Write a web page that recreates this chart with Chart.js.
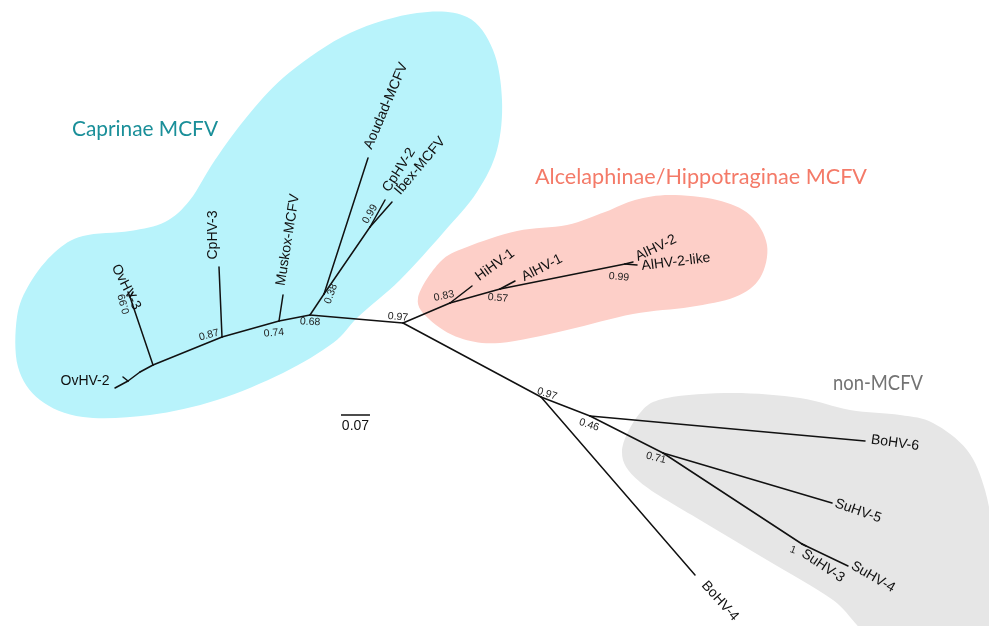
<!DOCTYPE html>
<html><head><meta charset="utf-8">
<script src="https://cdn.jsdelivr.net/npm/chart.js@4/dist/chart.umd.min.js"></script>
<style>html,body{margin:0;padding:0;background:#fff;overflow:hidden}canvas{display:block}</style>
</head><body>
<canvas id="c" width="989" height="626"></canvas>
<script>
// ---------- DATA ----------
// Tip (leaf) nodes: names, labels and tree-plot coordinates (unrooted layout units)
const tipNames  = ['OvHV-2','OvHV-2b','OvHV-3','OvHV-3b','CpHV-3','Muskox-MCFV','Aoudad-MCFV','CpHV-2','Ibex-MCFV','HiHV-1','AlHV-1','AlHV-2','AlHV-2-like','BoHV-4','BoHV-6','SuHV-5','SuHV-3','SuHV-4'];
const tipLabels = ['OvHV-2','','OvHV-3','','CpHV-3','Muskox-MCFV','Aoudad-MCFV','CpHV-2','Ibex-MCFV','HiHV-1','AlHV-1','AlHV-2','AlHV-2-like','BoHV-4','BoHV-6','SuHV-5','SuHV-3','SuHV-4'];
const tipX = [115,123,128,133,219,283,368,385,392,472,515,633,637,695,865,832,806,848];
const tipY = [388,377,292,292,267,295,158,200,202,286,281,262,265,575,441,503,546,566];

// Internal nodes: names, coordinates and posterior support values
const innerNames = ['c97','c68','c74','c87','cOv3','cOvA','cOv2','cOv3t','c38','c99c','c83','c57','c99a','c97b','c46','c71','c1'];
const innerX = [403,310,279,222,153,140,128,130,324,370,450,500,625,541,590,663,802];
const innerY = [323,315,321,337,365,372,381,297,294,227,303,289,264,397,416,453,544];
const support = ['0.97','0.68','0.74','0.87','','','','0.99','0.38','0.99','0.83','0.57','0.99','0.97','0.46','0.71','1'];

// Branches (parent -> child)
const edgeFrom = ['c97','c68','c74','c87','cOv3','cOvA','cOv2','cOv2','cOv3','cOv3t','cOv3t','c87','c74','c68','c38','c38','c99c','c99c','c97','c83','c83','c57','c57','c99a','c99a','c97','c97b','c97b','c46','c46','c71','c71','c1','c1'];
const edgeTo   = ['c68','c74','c87','cOv3','cOvA','cOv2','OvHV-2','OvHV-2b','cOv3t','OvHV-3','OvHV-3b','CpHV-3','Muskox-MCFV','c38','Aoudad-MCFV','c99c','CpHV-2','Ibex-MCFV','c83','HiHV-1','c57','AlHV-1','c99a','AlHV-2','AlHV-2-like','c97b','BoHV-4','c46','BoHV-6','c71','SuHV-5','c1','SuHV-3','SuHV-4'];

// Groups
const groupNames = ['Caprinae MCFV','Alcelaphinae/Hippotraginae MCFV','non-MCFV'];

// Scale bar (substitutions per site)
const scaleBarValue = 0.07;
const unitsPerSubstitution = 414;

// ---------- LAYOUT / STYLE ----------
const tipLabelLayout = { // dx, dy (px from tip to label centre), angle (deg)
  'OvHV-2':[-30,-7,0], 'OvHV-3':[-2,-5,63], 'CpHV-3':[-6,-32,-90], 'Muskox-MCFV':[5,-55,-81],
  'Aoudad-MCFV':[18,-52,-67], 'CpHV-2':[14,-30,-57], 'Ibex-MCFV':[28,-36,-50],
  'HiHV-1':[23,-21,-36], 'AlHV-1':[27,-13,-27], 'AlHV-2':[23,-14,-26], 'AlHV-2-like':[39,-3,-7],
  'BoHV-4':[25,26,48], 'BoHV-6':[30,2,8], 'SuHV-5':[26,8,19], 'SuHV-3':[17,20,34], 'SuHV-4':[25,11,30]
};
const supportLayout = {
  'c97':[-5,-6,5], 'c68':[0,7,3], 'c74':[-5,12,-5], 'c87':[-13,-2,-15], 'cOv3t':[-6,7,-105],
  'c38':[7,0,-70], 'c99c':[0,-13,-60], 'c83':[-6,-7,-12], 'c57':[-2,9,5], 'c99a':[-6,13,5],
  'c97b':[6,-3,18], 'c46':[-1,9,18], 'c71':[-7,5,14], 'c1':[-9,6,20]
};
const groupStyle = [
  {fill:'#b8f3fb', text:'#1a8f99', title:[145,129], width:146,
   outline:[[417,13],[467,17],[493,50],[502,100],[497,150],[477,192],[443,233],[400,280],[358,317],[333,343],[283,373],[217,400],[150,415],[83,417],[40,400],[18,367],[17,317],[30,283],[55,252],[83,236],[130,231],[165,222],[190,200],[215,160],[250,113],[290,72],[350,33]]},
  {fill:'#fdcfc8', text:'#f47a68', title:[701,177], width:332,
   outline:[[440,262],[467,247],[517,231],[567,225],[605,212],[635,200],[670,195],[717,200],[750,215],[767,245],[760,278],[735,297],[690,307],[633,314],[567,330],[500,343],[460,338],[430,320],[418,298]]},
  {fill:'#e6e6e6', text:'#737373', title:[878,383], width:90,
   outline:[[622,452],[640,413],[667,398],[733,393],[800,398],[850,410],[900,415],[933,423],[967,450],[985,490],[993,540],[993,600],[975,640],[880,640],[833,600],[767,560],[700,520],[640,482]]}
];
const scaleBarPos = [341,415];

// ---------- BUILD ----------
const pos = {};
tipNames.forEach((n,i)=>pos[n]={x:tipX[i], y:tipY[i]});
innerNames.forEach((n,i)=>pos[n]={x:innerX[i], y:innerY[i]});

const datasets = edgeFrom.map((f,i)=>({
  data:[{x:pos[f].x,y:pos[f].y},{x:pos[edgeTo[i]].x,y:pos[edgeTo[i]].y}],
  showLine:true, borderColor:'#111', borderWidth:1.5, pointRadius:0, borderCapStyle:'round', tension:0
}));
datasets.push({
  data:[{x:scaleBarPos[0],y:scaleBarPos[1]},{x:scaleBarPos[0]+scaleBarValue*unitsPerSubstitution,y:scaleBarPos[1]}],
  showLine:true, borderColor:'#111', borderWidth:1.5, pointRadius:0, tension:0
});

function smoothClosed(ctx, pts){
  const n = pts.length;
  ctx.beginPath();
  ctx.moveTo(pts[0][0], pts[0][1]);
  for(let i=0;i<n;i++){
    const p0=pts[(i-1+n)%n], p1=pts[i], p2=pts[(i+1)%n], p3=pts[(i+2)%n];
    ctx.bezierCurveTo(p1[0]+(p2[0]-p0[0])/6, p1[1]+(p2[1]-p0[1])/6,
                      p2[0]-(p3[0]-p1[0])/6, p2[1]-(p3[1]-p1[1])/6, p2[0], p2[1]);
  }
  ctx.closePath();
}
function drawText(ctx, txt, x, y, ang, font, color, targetW){
  ctx.save();
  ctx.translate(x,y);
  ctx.rotate(ang*Math.PI/180);
  ctx.font = font; ctx.fillStyle = color;
  ctx.textAlign='center'; ctx.textBaseline='middle';
  if(targetW){ const w = ctx.measureText(txt).width; ctx.scale(targetW/w,1); }
  ctx.fillText(txt,0,0);
  ctx.restore();
}

const treePlugin = {
  id:'tree',
  beforeDatasetsDraw(chart){
    const {ctx, scales:{x,y}} = chart;
    ctx.save();
    groupStyle.forEach((g,gi)=>{
      const pts = g.outline.map(p=>[x.getPixelForValue(p[0]), y.getPixelForValue(p[1])]);
      smoothClosed(ctx, pts);
      ctx.fillStyle = g.fill; ctx.fill();
    });
    groupStyle.forEach((g,gi)=>{
      drawText(ctx, groupNames[gi], x.getPixelForValue(g.title[0]), y.getPixelForValue(g.title[1]), 0,
        '21px "Lato", "Open Sans", sans-serif', g.text, g.width);
    });
    ctx.restore();
  },
  afterDatasetsDraw(chart){
    const {ctx, scales:{x,y}} = chart;
    ctx.save();
    tipNames.forEach((n,i)=>{
      const lbl = tipLabels[i]; if(!lbl) return;
      const L = tipLabelLayout[n];
      drawText(ctx, lbl, x.getPixelForValue(tipX[i])+L[0], y.getPixelForValue(tipY[i])+L[1], L[2],
        '14px "Liberation Sans", Arial, sans-serif', '#111');
    });
    innerNames.forEach((n,i)=>{
      if(!support[i]) return;
      const L = supportLayout[n];
      drawText(ctx, support[i], x.getPixelForValue(innerX[i])+L[0], y.getPixelForValue(innerY[i])+L[1], L[2],
        '10.5px "Liberation Sans", Arial, sans-serif', '#222');
    });
    const sbMid = scaleBarPos[0] + scaleBarValue*unitsPerSubstitution/2;
    drawText(ctx, String(scaleBarValue), x.getPixelForValue(sbMid), y.getPixelForValue(scaleBarPos[1])+11, 0,
      '14px "Liberation Sans", Arial, sans-serif', '#111');
    ctx.restore();
  }
};

new Chart(document.getElementById('c'), {
  type:'scatter',
  data:{datasets},
  options:{
    responsive:false, animation:false, events:[],
    layout:{padding:0},
    plugins:{legend:{display:false}, tooltip:{enabled:false}},
    scales:{
      x:{type:'linear', min:0, max:989, display:false},
      y:{type:'linear', min:0, max:626, reverse:true, display:false}
    }
  },
  plugins:[treePlugin]
});
</script>
</body></html>
